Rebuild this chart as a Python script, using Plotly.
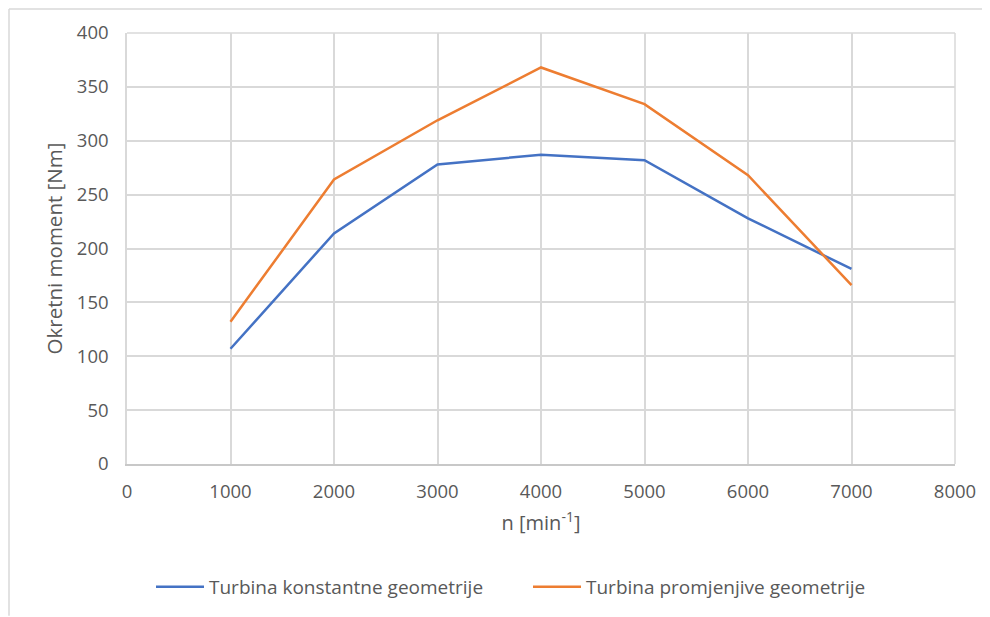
import plotly.graph_objects as go

rpm = [1000, 2000, 3000, 4000, 5000, 6000, 7000]
torque_const = [107, 214, 278, 287, 282, 228, 181]
torque_var = [132, 264, 319, 368, 334, 268, 166]
series_names = ["Turbina konstantne geometrije", "Turbina promjenjive geometrije"]
x_ticks = [0, 1000, 2000, 3000, 4000, 5000, 6000, 7000, 8000]
y_ticks = [0, 50, 100, 150, 200, 250, 300, 350, 400]

FONT = "Open Sans"
TXT = "#595959"
GRID = "#d9d9d9"

fig = go.Figure()
fig.add_trace(go.Scatter(x=rpm, y=torque_const, mode="lines", name=series_names[0],
                         line=dict(color="#4472C4", width=2.5)))
fig.add_trace(go.Scatter(x=rpm, y=torque_var, mode="lines", name=series_names[1],
                         line=dict(color="#ED7D31", width=2.5)))

# page offset of the figure (body margin)
OFF = 8
W, H = 990 - OFF, 617 - OFF
PL, PT, PR, PB = 127, 33, 955, 465  # plot area in page pixels
L, T = PL - OFF, PT - OFF
R = W - (PR - OFF)
B = H - (PB - OFF)
pw, ph = PR - PL, PB - PT

def px(x):
    return (x - PL) / pw

def py(y):
    return (PB - y) / ph

fig.update_layout(
    width=W, height=H,
    margin=dict(l=L, r=R, t=T, b=B, pad=0),
    paper_bgcolor="white", plot_bgcolor="white",
    font=dict(family=FONT, color=TXT, size=18),
    showlegend=True,
    legend=dict(orientation="h", x=px(151), xanchor="left", y=py(587), yanchor="middle",
                font=dict(size=19, color=TXT), entrywidth=314, entrywidthmode="pixels",
                itemwidth=48, bgcolor="rgba(0,0,0,0)"),
    xaxis=dict(range=[0, 8000], tickvals=x_ticks, ticktext=[str(v) for v in x_ticks],
               showgrid=True, gridcolor=GRID, gridwidth=1.5, zeroline=False,
               showline=True, linecolor="#c8c8c8", linewidth=1.5, mirror=False,
               ticks="outside", ticklen=10, tickcolor="rgba(0,0,0,0)",
               tickfont=dict(size=18.5, color=TXT),
               title=dict(text="n [min<sup>-1</sup>]", font=dict(size=20, color=TXT), standoff=14)),
    yaxis=dict(range=[0, 400], tickvals=y_ticks, ticktext=[str(v) for v in y_ticks],
               showgrid=True, gridcolor=GRID, gridwidth=1.5, zeroline=False,
               showline=True, linecolor=GRID, linewidth=1.5,
               ticks="outside", ticklen=13, tickcolor="rgba(0,0,0,0)",
               tickfont=dict(size=18.5, color=TXT),
               title=dict(text="Okretni moment [Nm]", font=dict(size=20.5, color=TXT), standoff=9)),
    shapes=[
        dict(type="line", xref="paper", yref="paper", x0=px(9), x1=px(9), y0=py(9), y1=py(617),
             line=dict(color=GRID, width=1.5)),
        dict(type="line", xref="paper", yref="paper", x0=px(9), x1=px(990), y0=py(9), y1=py(9),
             line=dict(color=GRID, width=1.5)),
        dict(type="line", xref="paper", yref="paper", x0=1, x1=1, y0=0, y1=1,
             line=dict(color=GRID, width=1.5)),
        dict(type="line", xref="paper", yref="paper", x0=0, x1=1, y0=1, y1=1,
             line=dict(color=GRID, width=1.5)),
    ],
)

fig.write_html("out.html")
